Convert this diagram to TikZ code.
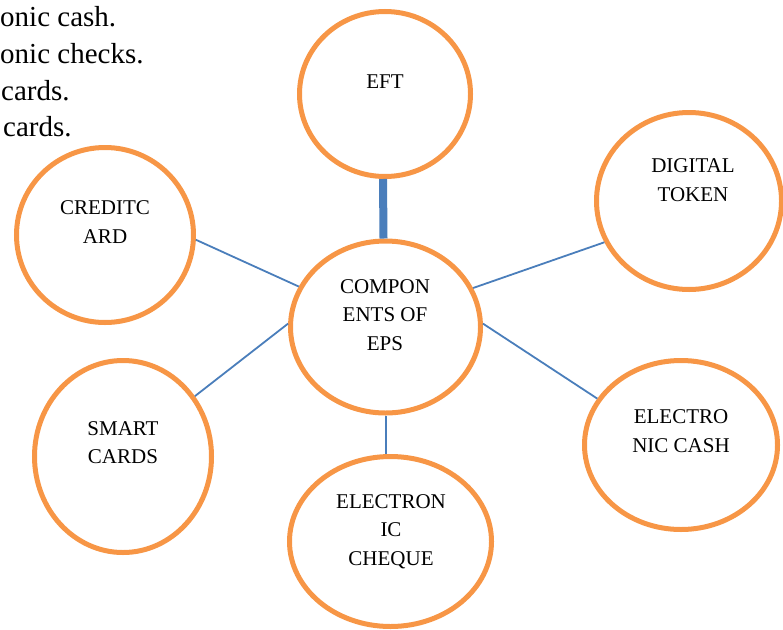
\documentclass[tikz,border=0pt]{standalone}
\usepackage{fontspec}
\setmainfont{Liberation Serif}
\usetikzlibrary{shapes.geometric}
\definecolor{ringorange}{HTML}{F79646}
\definecolor{linkblue}{HTML}{4A7EBB}

\begin{document}
\begin{tikzpicture}[x=1pt, y=-1pt,
	bubble/.style={ellipse, draw=ringorange, line width=5pt, inner sep=0pt},
	bubbletext/.style={align=center, inner sep=0pt, font=\fontsize{21}{28.5}\selectfont},
	link/.style={linkblue, line width=1.8pt},
	listline/.style={anchor=base west, inner sep=0pt, font=\fontsize{29}{36}\selectfont}]
	\useasboundingbox (0, 0) rectangle (783, 629);
	\clip (0, 0) rectangle (783, 629);

	% list text at the left margin
	\foreach \i/\x/\y/\ltext in { 1/0/26/onic cash., 2/0/63/onic checks., 3/1/100/cards., 4/3/136/cards. }
		\node[listline] (list\i) at (\x, \y) {\ltext};

	% the circles
	\node[bubble, minimum width=171pt, minimum height=165pt] (eft) at (385, 94) {};
	\node[bubble, minimum width=185pt, minimum height=177pt] (token) at (689, 201) {};
	\node[bubble, minimum width=177pt, minimum height=175pt] (credit) at (105, 235) {};
	\node[bubble, minimum width=190pt, minimum height=172pt] (comp) at (385.5, 327) {};
	\node[bubble, minimum width=177pt, minimum height=192pt] (smart) at (123, 456.5) {};
	\node[bubble, minimum width=202pt, minimum height=170pt] (cheque) at (390.5, 541.5) {};
	\node[bubble, minimum width=193pt, minimum height=169pt] (cash) at (681, 445) {};

	\node[bubbletext] (eftlbl) at (385, 82) {EFT};
	\node[bubbletext] (tokenlbl) at (693, 180) {DIGITAL\\TOKEN};
	\node[bubbletext] (creditlbl) at (105, 222) {CREDITC\\ARD};
	\node[bubbletext] (complbl) at (385, 315) {COMPON\\ENTS OF\\EPS};
	\node[bubbletext] (smartlbl) at (123, 442.5) {SMART\\CARDS};
	\node[bubbletext] (chequelbl) at (391, 531.5) {ELECTRON\\IC\\CHEQUE};
	\node[bubbletext] (cashlbl) at (681, 431) {ELECTRO\\NIC CASH};

	% connectors
	\draw[linkblue, line width=8pt] ([xshift=-2pt]eft.south) -- ([xshift=-2pt]comp.north);
	\draw[link] (credit.-3) -- (comp.155);
	\draw[link] (smart.40) -- (comp.178);
	\draw[link] (token.206) -- (comp.24);
	\draw[link] (cash.151) -- (comp.2);
	\draw[link] ([xshift=0.5pt]comp.south) -- ([xshift=0.5pt]comp.south |- cheque.north);
\end{tikzpicture}
\end{document}
